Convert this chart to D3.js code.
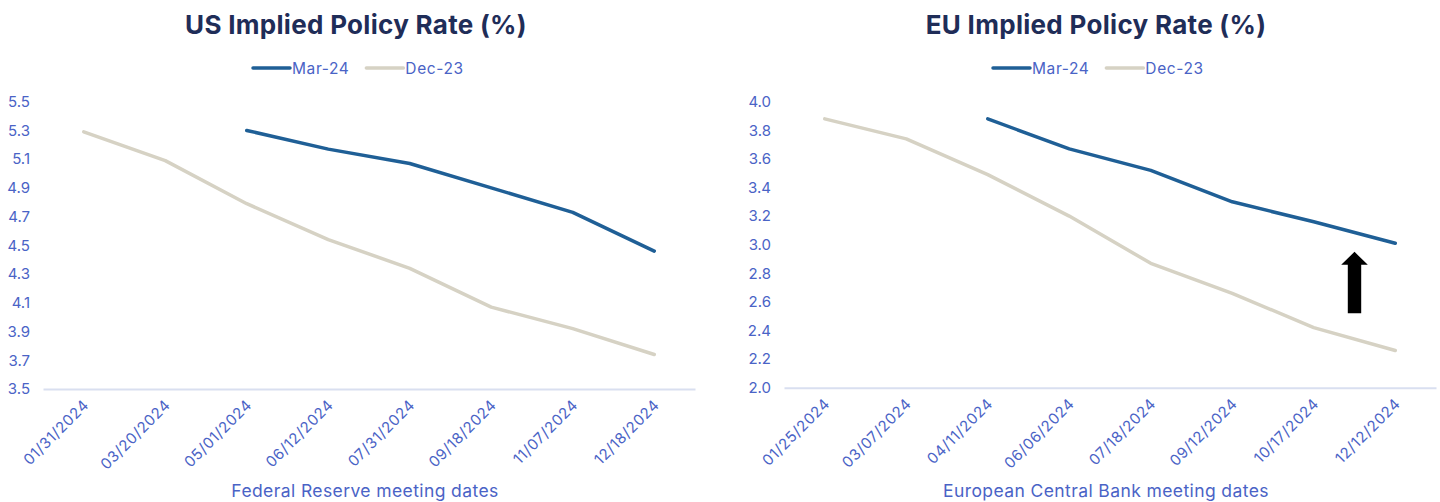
<!DOCTYPE html>
<meta charset="utf-8">
<style>
body { margin: 0; background: #fff; }
svg text { font-family: Inter, "Noto Sans", sans-serif; }
.title { font-weight: 700; fill: #1f2d58; font-size: 26px; letter-spacing: 0.3px; }
.lbl { fill: #4a63c6; }
</style>
<svg width="1440" height="502"></svg>
<script src="https://d3js.org/d3.v7.min.js"></script>
<script>
// series names
var seriesNames = ["Mar-24", "Dec-23"];
var seriesColors = ["#1f5f96", "#d6d2c4"];

// US (Fed) meeting dates and implied rates
var usDates = ["01/31/2024", "03/20/2024", "05/01/2024", "06/12/2024", "07/31/2024", "09/18/2024", "11/07/2024", "12/18/2024"];
var usMar24 = [null, null, 5.30, 5.17, 5.07, 4.90, 4.73, 4.46];
var usDec23 = [5.29, 5.09, 4.79, 4.54, 4.34, 4.07, 3.92, 3.74];
var usTicks = [3.5, 3.7, 3.9, 4.1, 4.3, 4.5, 4.7, 4.9, 5.1, 5.3, 5.5];

// EU (ECB) meeting dates and implied rates
var euDates = ["01/25/2024", "03/07/2024", "04/11/2024", "06/06/2024", "07/18/2024", "09/12/2024", "10/17/2024", "12/12/2024"];
var euMar24 = [null, null, 3.88, 3.67, 3.52, 3.30, 3.16, 3.01];
var euDec23 = [3.88, 3.74, 3.49, 3.20, 2.87, 2.66, 2.42, 2.26];
var euTicks = [2.0, 2.2, 2.4, 2.6, 2.8, 3.0, 3.2, 3.4, 3.6, 3.8, 4.0];

var svg = d3.select("svg");

function drawChart(opt) {
  var g = svg.append("g").attr("transform", "translate(" + opt.left + "," + opt.top + ")");
  var w = opt.width, h = opt.height;

  var x = d3.scaleBand().domain(opt.dates).range([0, w]);
  var y = d3.scaleLinear().domain([opt.ticks[0], opt.ticks[opt.ticks.length - 1]]).range([h, 0]);

  // title
  svg.append("text").attr("class", "title")
    .attr("x", opt.left + opt.titleX).attr("y", 34)
    .attr("text-anchor", "middle").text(opt.title);

  // legend
  var leg = svg.append("g").attr("transform", "translate(" + (opt.left + opt.legendX) + ",68)");
  var lx = 0;
  seriesNames.forEach(function(name, i) {
    leg.append("line").attr("x1", lx).attr("x2", lx + 37).attr("y1", 0).attr("y2", 0)
      .attr("stroke", seriesColors[i]).attr("stroke-width", 3.5).attr("stroke-linecap", "round");
    var t = leg.append("text").attr("class", "lbl").attr("x", lx + 39).attr("y", 5.5)
      .attr("font-size", 15.5).attr("letter-spacing", 0.6).text(name);
    lx += 39 + t.node().getComputedTextLength() + 17;
  });

  // y axis labels only
  var ya = g.append("g").call(d3.axisLeft(y).tickValues(opt.ticks).tickFormat(d3.format(".1f")).tickSize(0).tickPadding(13));
  ya.select(".domain").remove();
  ya.selectAll("text").attr("class", "lbl").attr("font-size", 15).attr("fill", null);

  // x axis
  var xa = g.append("g").attr("transform", "translate(0," + h + ")")
    .call(d3.axisBottom(x).tickSize(0));
  xa.select(".domain").attr("stroke", "#d9dff0").attr("stroke-width", 2);
  xa.selectAll("text").attr("class", "lbl").attr("fill", null).attr("font-size", 15)
    .attr("letter-spacing", 0.6)
    .attr("y", 0).attr("dy", 0).attr("text-anchor", "end")
    .attr("transform", "translate(6,17) rotate(-45)");

  // axis title
  svg.append("text").attr("class", "lbl").attr("font-size", 17.5).attr("letter-spacing", 0.4)
    .attr("x", opt.left + opt.axisTitleX).attr("y", 497)
    .attr("text-anchor", "middle").text(opt.axisTitle);

  // lines
  var line = d3.line()
    .defined(function(d) { return d != null; })
    .x(function(d, i) { return x(opt.dates[i]) + x.bandwidth() / 2; })
    .y(function(d) { return y(d); });
  [opt.dec, opt.mar].forEach(function(vals, k) {
    g.append("path").datum(vals)
      .attr("fill", "none")
      .attr("stroke", k === 0 ? seriesColors[1] : seriesColors[0])
      .attr("stroke-width", 3.5)
      .attr("stroke-linejoin", "round")
      .attr("stroke-linecap", "round")
      .attr("d", line);
  });

  return { g: g, x: x, y: y };
}

drawChart({
  left: 43, top: 101.7, width: 652, height: 287.3,
  dates: usDates, ticks: usTicks, mar: usMar24, dec: usDec23,
  title: "US Implied Policy Rate (%)", titleX: 313, legendX: 210,
  axisTitle: "Federal Reserve meeting dates", axisTitleX: 322
});

var eu = drawChart({
  left: 784, top: 101.7, width: 652, height: 286,
  dates: euDates, ticks: euTicks, mar: euMar24, dec: euDec23,
  title: "EU Implied Policy Rate (%)", titleX: 312, legendX: 209,
  axisTitle: "European Central Bank meeting dates", axisTitleX: 322
});

// up arrow annotation between the two EU curves
var ax = eu.x(euDates[6]) + eu.x.step();
var yBot = eu.y(2.52), yTop = eu.y(2.95), headBase = eu.y(2.86);
eu.g.append("path")
  .attr("fill", "#000")
  .attr("d", d3.line()([
    [ax - 6.7, yBot], [ax - 6.7, headBase], [ax - 13.3, headBase], [ax, yTop],
    [ax + 13.3, headBase], [ax + 6.7, headBase], [ax + 6.7, yBot]
  ]) + "Z");
</script>
